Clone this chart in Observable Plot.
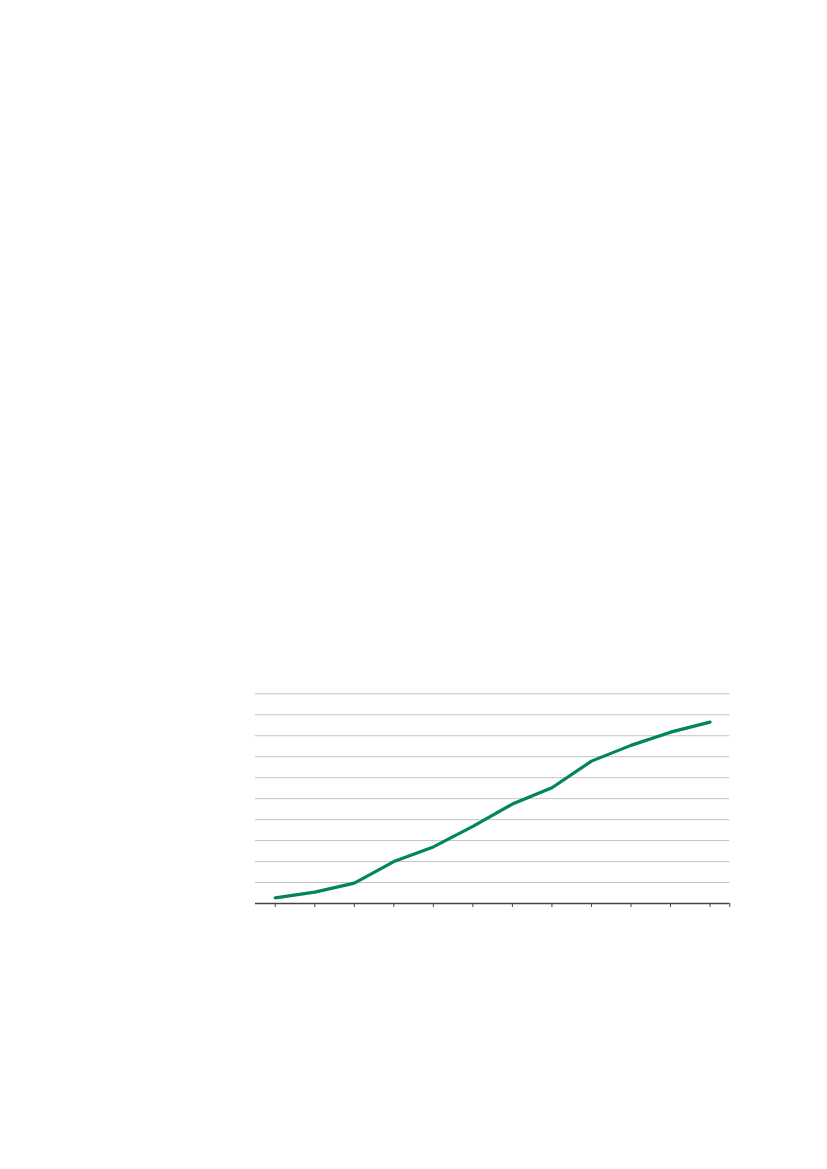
<!DOCTYPE html>
<html>
<head>
<meta charset="utf-8">
<script src="https://cdn.jsdelivr.net/npm/d3@7"></script>
<script src="https://cdn.jsdelivr.net/npm/@observablehq/plot@0.6"></script>
<style>
  html, body { margin: 0; padding: 0; background: #fff; }
  #chart svg { display: block; }
</style>
</head>
<body>
<div id="chart"></div>
<script>
// Periods (unlabelled in the reference) and series values
const periods = [1, 2, 3, 4, 5, 6, 7, 8, 9, 10, 11, 12];
const values = [0.27, 0.54, 0.97, 2.0, 2.7, 3.68, 4.74, 5.52, 6.79, 7.54, 8.17, 8.65];
// Axis tick positions
const xTicks = [1, 2, 3, 4, 5, 6, 7, 8, 9, 10, 11, 12, 12.5];
const yGrid = [1, 2, 3, 4, 5, 6, 7, 8, 9, 10];

const data = periods.map((p, i) => ({period: p, value: values[i]}));

const chart = Plot.plot({
  width: 827,
  height: 1169,
  marginLeft: 255,
  marginRight: 97.7,
  marginTop: 693.3,
  marginBottom: 266,
  style: {background: "#fff", fontFamily: "Liberation Sans, Arial, sans-serif"},
  x: {type: "linear", domain: [0.5, 12.5], axis: null, label: null},
  y: {type: "linear", domain: [0, 10], axis: null, label: null},
  marks: [
    Plot.gridY(yGrid, {stroke: "#c4c4c4", strokeOpacity: 1, strokeWidth: 1}),
    Plot.axisX(xTicks, {tickSize: 4, tickFormat: () => "", label: null, stroke: "#444", strokeWidth: 1}),
    Plot.ruleY([0], {stroke: "#444", strokeWidth: 1.6}),
    Plot.line(data, {x: "period", y: "value", stroke: "#00855f", strokeWidth: 3.2, strokeLinecap: "round", strokeLinejoin: "round"})
  ]
});
document.getElementById("chart").appendChild(chart);
</script>
</body>
</html>
